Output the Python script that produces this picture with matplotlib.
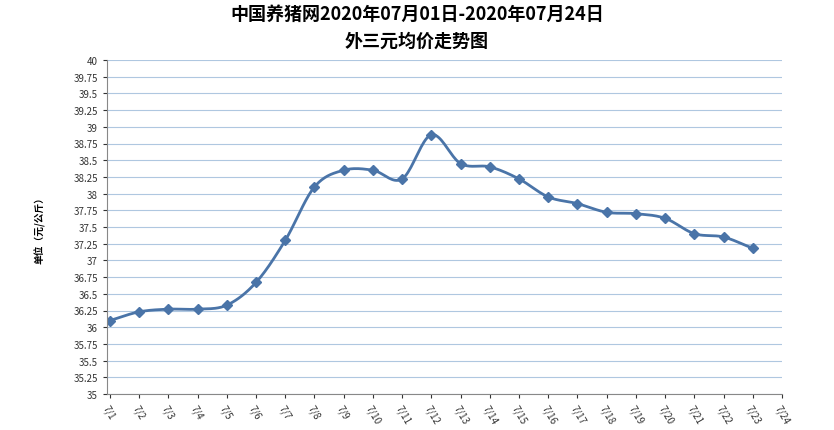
import matplotlib
matplotlib.use("Agg")
import matplotlib.pyplot as plt
import numpy as np

plt.rcParams['font.family'] = ['Noto Sans CJK SC', 'DejaVu Sans']

dates = [f"7/{i}" for i in range(1, 25)]
prices = [36.10, 36.23, 36.27, 36.27, 36.33, 36.67, 37.30, 38.10, 38.35, 38.35,
          38.22, 38.88, 38.45, 38.40, 38.22, 37.95, 37.85, 37.72, 37.70, 37.63,
          37.40, 37.35, 37.18]
title = "中国养猪网2020年07月01日-2020年07月24日\n外三元均价走势图"
ylabel = "单位（元/公斤）"

def catmull(x, y, n=20):
    x = np.asarray(x, float); y = np.asarray(y, float)
    px = np.concatenate([[2*x[0]-x[1]], x, [2*x[-1]-x[-2]]])
    py = np.concatenate([[2*y[0]-y[1]], y, [2*y[-1]-y[-2]]])
    xs, ys = [], []
    t = np.linspace(0, 1, n, endpoint=False)
    for i in range(1, len(px)-2):
        for P, out in ((px, xs), (py, ys)):
            p0, p1, p2, p3 = P[i-1], P[i], P[i+1], P[i+2]
            out.extend(0.5*((2*p1) + (-p0+p2)*t + (2*p0-5*p1+4*p2-p3)*t**2 + (-p0+3*p1-3*p2+p3)*t**3))
    xs.append(x[-1]); ys.append(y[-1])
    return np.array(xs), np.array(ys)

fig = plt.figure(figsize=(8.34, 4.31), dpi=100)
ax = fig.add_axes([107/834, 1-395/431, (782-107)/834, (395-61)/431])
xi = np.arange(len(prices))
sx, sy = catmull(xi, prices)
color = '#4A74A8'
ax.plot(sx, sy, color=color, lw=2)
ax.plot(xi, prices, 'D', color=color, ms=5)
ax.set_ylim(35, 40)
ax.set_yticks(np.arange(35, 40.01, 0.25))
ax.set_yticklabels([f"{v:g}" for v in np.arange(35, 40.01, 0.25)], fontsize=7)
ax.set_xlim(-0.1, 23)
ax.set_xticks(np.arange(24))
ax.set_xticklabels(dates, rotation=-60, fontsize=7, ha='left', rotation_mode='anchor')
ax.grid(axis='y', color='#AFC7E0', lw=0.8)
ax.set_axisbelow(True)
for s in ['top', 'right']:
    ax.spines[s].set_visible(False)
ax.spines['left'].set_color('#888888')
ax.spines['bottom'].set_color('#888888')
ax.tick_params(length=3, colors='#333333')
fig.text(40/834, 1-228/431, ylabel, rotation=90, fontsize=7, fontweight='bold', va='center', ha='center')
fig.text(0.5, 1-28/431, title, fontsize=13, fontweight='bold', ha='center', va='center', linespacing=1.5)
fig.savefig("out.png", dpi=100)
